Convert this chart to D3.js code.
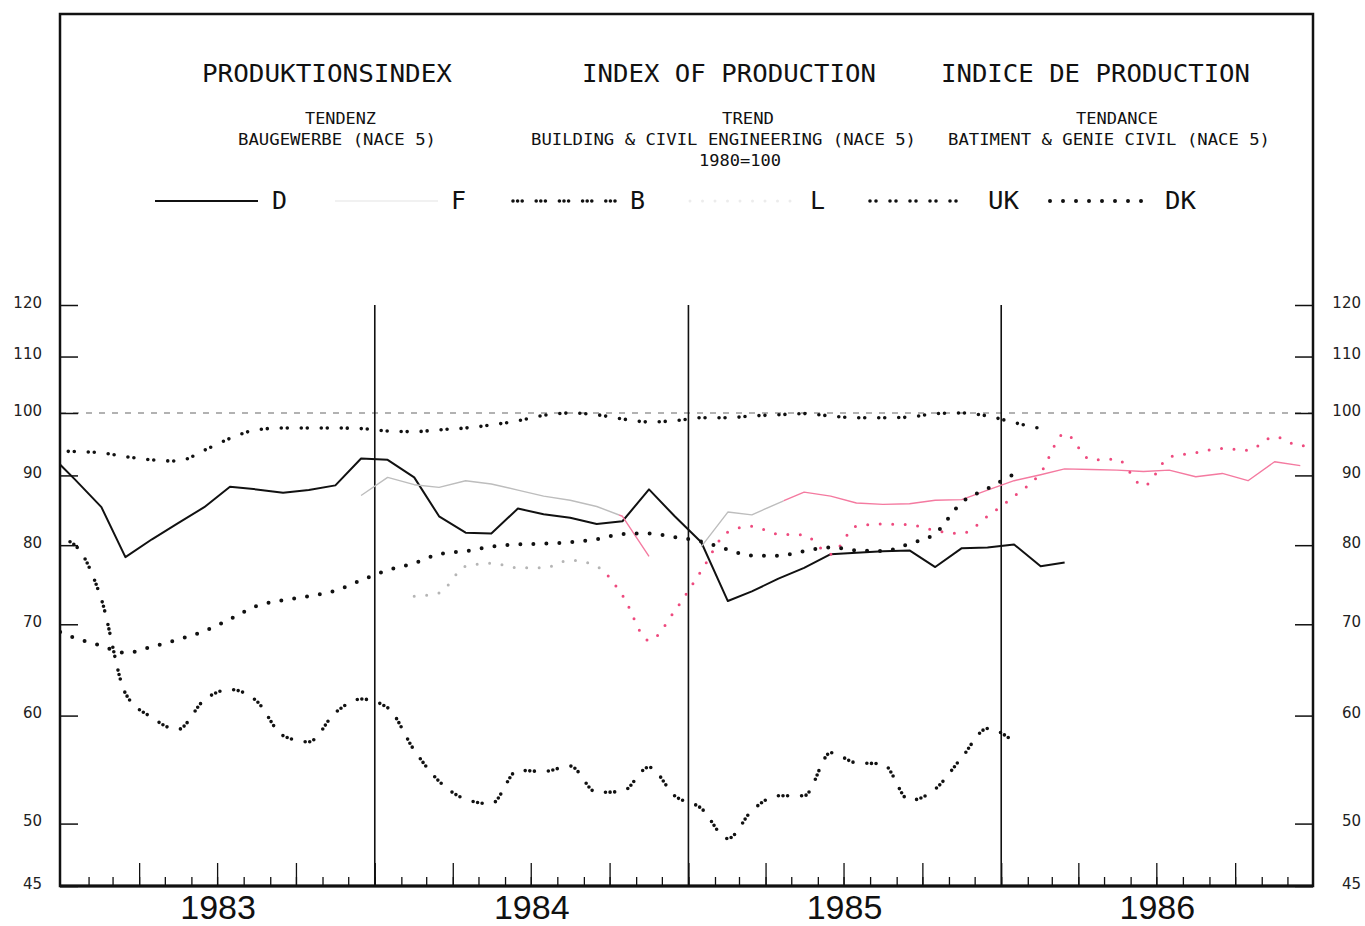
<!DOCTYPE html>
<html><head><meta charset="utf-8">
<script src="https://cdn.jsdelivr.net/npm/d3@7"></script>
<style>body{margin:0;background:#fff}</style>
</head><body>
<svg id="c" width="1365" height="926"></svg>
<script>
// ---------- DATA ----------
const years = [1983, 1984, 1985, 1986];
const yTicks = [120, 110, 100, 90, 80, 70, 60, 50, 45];
const titles = ["PRODUKTIONSINDEX", "INDEX OF PRODUCTION", "INDICE DE PRODUCTION"];
const subtitles1 = ["TENDENZ", "TREND", "TENDANCE"];
const subtitles2 = ["BAUGEWERBE (NACE 5)", "BUILDING & CIVIL ENGINEERING (NACE 5)", "BATIMENT & GENIE CIVIL (NACE 5)"];
const baseNote = "1980=100";
const legendKeys = ["D", "F", "B", "L", "UK", "DK"];

// monthly values; first value is for the given start month [year, monthIndex]
const D_start = [1982, 11];
const D_values = [93.5,
  89.4, 85.3, 78.4, 80.8, 83.0, 85.3, 88.3, 87.9, 87.4, 87.8, 88.5, 92.6,
  92.4, 89.7, 84.0, 81.7, 81.6, 85.1, 84.3, 83.8, 82.9, 83.3, 87.9, 84.0,
  80.4, 72.8, 74.0, 75.6, 77.0, 78.8, 79.0, 79.2, 79.3, 77.1, 79.6, 79.7,
  80.1, 77.2, 77.7];

const F_start = [1983, 11];
const F_values = [87.0,
  89.7, 88.6, 88.2, 89.2, 88.7, 87.8, 86.9, 86.3, 85.4, 84.0, 78.5, null,
  79.8, 84.6, 84.2, 85.9, 87.5, 86.9, 85.9, 85.7, 85.8, 86.3, 86.4, 87.8,
  89.2, 90.1, 91.0, 90.9, 90.8, 90.6, 90.8, 89.8, 90.3, 89.2, 92.1, 91.5];

const B_start = [1982, 11];
const B_values = [81.5,
  80.0, 73.0, 62.3, 59.8, 58.6, 61.6, 62.7, 61.5, 58.0, 57.4, 60.3, 61.7,
  60.8, 56.6, 53.7, 52.1, 51.7, 54.7, 54.6, 55.1, 52.7, 52.8, 55.0, 52.4,
  51.3, 48.75, 51.1, 52.4, 52.4, 56.35, 55.4, 55.3, 52.0, 53.0, 55.9, 58.7,
  57.4];

const L_start = [1984, 1];
const L_values = [
  73.4, 73.8, 77.2, 77.6, 77.0, 77.0, 78.0, 77.2, 73.5, 68.1, 71.6,
  76.6, 81.8, 82.6, 81.5, 81.4, 78.8, 82.6, 82.9, 82.8, 82.0, 81.6, 84.0,
  86.9, 90.4, 96.6, 92.4, 92.5, 88.4, 92.8, 93.5, 94.2, 93.9, 96.1, 94.6,
  95.4];

const UK_start = [1982, 11];
const UK_values = [93.8,
  93.7, 93.5, 92.9, 92.4, 92.2, 93.9, 95.8, 97.2, 97.5, 97.5, 97.5, 97.4,
  97.0, 96.9, 97.2, 97.5, 98.0, 98.7, 99.6, 100.0, 99.7, 99.0, 98.5, 98.7,
  99.2, 99.2, 99.5, 99.7, 99.9, 99.5, 99.2, 99.2, 99.3, 99.9, 100.0, 99.5,
  98.4, 97.4];

const DK_start = [1982, 11];
const DK_values = [69.7,
  68.4, 67.5, 66.7, 67.4, 68.2, 69.2, 70.6, 72.2, 72.9, 73.4, 74.1, 75.4,
  76.7, 77.6, 78.8, 79.2, 79.8, 80.1, 80.2, 80.4, 80.8, 81.5, 81.6, 81.1,
  80.5, 79.4, 78.6, 78.6, 79.2, 79.7, 79.3, 79.2, 80.2, 81.6, 86.0, 88.0,
  90.2];

// ---------- LAYOUT ----------
const L0 = 60, R0 = 1313, T0 = 14, B0 = 886;
const svg = d3.select("#c");
svg.append("rect").attr("width", 1365).attr("height", 926).attr("fill", "#fff");

const x = d3.scaleTime()
  .domain([new Date(years[0], 0, 1), new Date(years[years.length - 1] + 1, 0, 1)])
  .range([62, 1314]);
const y = d3.scaleLog().domain([45, 120]).range([B0, 305]);

const pts = (start, vals) => vals.map((v, i) => ({ date: new Date(start[0], start[1] + i, 16), v }));

const mono = "'DejaVu Sans Mono', 'Liberation Mono', monospace";

// clip paths (colour zones of the faded F and L traces)
const defs = svg.append("defs");
function clipX(id, ranges) {
  defs.append("clipPath").attr("id", id).selectAll("rect").data(ranges).join("rect")
    .attr("x", d => Math.max(L0, x(d[0]))).attr("width", d => Math.min(R0, x(d[1])) - Math.max(L0, x(d[0])))
    .attr("y", T0).attr("height", B0 - T0);
}
const START = new Date(1982, 11, 1), END = new Date(1987, 0, 1);
clipX("plot", [[START, END]]);
clipX("fpink", [[new Date(1984, 9, 12), new Date(1984, 11, 1)], [new Date(1985, 3, 22), END]]);
clipX("fgray", [[START, new Date(1984, 9, 12)], [new Date(1984, 11, 1), new Date(1985, 3, 22)]]);
clipX("lpink", [[new Date(1984, 8, 22), END]]);
clipX("lgray", [[START, new Date(1984, 8, 22)]]);

// ---------- TEXT ----------
function txt(s, xx, yy, size, len, family) {
  const t = svg.append("text").attr("x", xx).attr("y", yy)
    .attr("font-family", family || mono).attr("font-size", size).attr("fill", "#111").text(s);
  if (len) t.attr("textLength", len).attr("lengthAdjust", "spacingAndGlyphs");
  return t;
}
const titleX = [202, 582, 941], titleLen = [250, 294, 309];
titles.forEach((s, i) => txt(s, titleX[i], 82, 25, titleLen[i]));
const s1X = [305, 722, 1076], s1Len = [71, 52, 82];
subtitles1.forEach((s, i) => txt(s, s1X[i], 124, 15, s1Len[i]));
const s2X = [238, 531, 948], s2Len = [198, 385, 322];
subtitles2.forEach((s, i) => txt(s, s2X[i], 145, 15, s2Len[i]));
txt(baseNote, 699, 166, 15, 82);

// ---------- FRAME & AXES ----------
svg.append("line").attr("x1", L0).attr("x2", R0).attr("y1", y(100)).attr("y2", y(100))
  .attr("stroke", "#666").attr("stroke-width", 1.2).attr("stroke-dasharray", "6 7");

svg.selectAll("line.yr").data(years.slice(1).map(yy => new Date(yy, 0, 1))).join("line")
  .attr("class", "yr").attr("x1", d => x(d)).attr("x2", d => x(d))
  .attr("y1", y(120)).attr("y2", B0).attr("stroke", "#111").attr("stroke-width", 1.6);

const innerMonths = d3.timeMonth.range(new Date(years[0], 1, 1), new Date(years[years.length - 1], 11, 2));
const monthAxis = d3.axisBottom(x).tickValues(innerMonths).tickSize(-9).tickFormat("");
const qAxis = d3.axisBottom(x).tickValues(innerMonths.filter(d => d.getMonth() % 3 === 0)).tickSize(-23).tickFormat("");
[monthAxis, qAxis].forEach(a => {
  const g = svg.append("g").attr("transform", `translate(0,${B0})`).call(a);
  g.select(".domain").remove();
  g.selectAll("line").attr("stroke", "#111").attr("stroke-width", 1.3);
});

svg.selectAll("text.yl").data(years).join("text").attr("class", "yl")
  .attr("x", d => x(new Date(d, 6, 1)) + 1).attr("y", 919)
  .attr("text-anchor", "middle").attr("font-family", "'Liberation Sans', Arial, sans-serif")
  .attr("font-size", 34).attr("fill", "#111").text(d => d);

const gl = svg.append("g").attr("transform", `translate(${L0},0)`)
  .call(d3.axisLeft(y).tickValues(yTicks).tickSize(-18).tickPadding(18).tickFormat(d3.format("d")));
const gr = svg.append("g").attr("transform", `translate(${R0},0)`)
  .call(d3.axisRight(y).tickValues(yTicks).tickSize(-18).tickPadding(18).tickFormat(d3.format("d")));
[gl, gr].forEach(g => {
  g.select(".domain").remove();
  g.selectAll("line").attr("stroke", "#111").attr("stroke-width", 1.5);
  g.selectAll("text").attr("font-family", "'DejaVu Sans', sans-serif").attr("font-size", 15)
    .attr("fill", "#222").attr("dy", "0.15em");
});
gr.selectAll("text").attr("text-anchor", "end").attr("x", 48);

svg.append("rect").attr("x", L0).attr("y", T0).attr("width", R0 - L0).attr("height", B0 - T0)
  .attr("fill", "none").attr("stroke", "#111").attr("stroke-width", 2.5);
svg.append("line").attr("x1", L0).attr("x2", R0).attr("y1", B0).attr("y2", B0)
  .attr("stroke", "#111").attr("stroke-width", 3.2);

// ---------- SERIES ----------
const styles = {
  D:  { stroke: "#111", width: 2, dash: null, cap: "butt", curve: d3.curveLinear },
  F:  { stroke: "#bdbdbd", pink: "#f47aa0", width: 1.4, dash: null, cap: "butt", curve: d3.curveLinear },
  B:  { stroke: "#111", width: 3.6, dash: "0 4.6 0 4.6 0 14", cap: "round", curve: d3.curveMonotoneX },
  L:  { stroke: "#b5b5b5", pink: "#ee4a7e", width: 3, dash: "0 12.5", cap: "round", curve: d3.curveMonotoneX },
  UK: { stroke: "#111", width: 3.6, dash: "0 6 0 14", cap: "round", curve: d3.curveMonotoneX },
  DK: { stroke: "#111", width: 4, dash: "0 13", cap: "round", curve: d3.curveMonotoneX }
};
const series = [
  { key: "D", data: pts(D_start, D_values) },
  { key: "F", data: pts(F_start, F_values) },
  { key: "B", data: pts(B_start, B_values) },
  { key: "L", data: pts(L_start, L_values) },
  { key: "UK", data: pts(UK_start, UK_values) },
  { key: "DK", data: pts(DK_start, DK_values) }
];
series.forEach(s => {
  const st = styles[s.key];
  const line = d3.line().defined(d => d.v != null).x(d => x(d.date)).y(d => y(d.v)).curve(st.curve);
  const draw = (clip, color) => svg.append("g").attr("clip-path", `url(#${clip})`)
    .append("path").datum(s.data).attr("d", line)
    .attr("fill", "none").attr("stroke", color).attr("stroke-width", st.width)
    .attr("stroke-linecap", st.cap).attr("stroke-linejoin", "round")
    .attr("stroke-dasharray", st.dash);
  if (st.pink) {
    const k = s.key.toLowerCase();
    draw(k + "gray", st.stroke);
    draw(k + "pink", st.pink);
  } else {
    draw("plot", st.stroke);
  }
});

// ---------- LEGEND ----------
const legendSym = { D: [155, 258], F: [335, 438], B: [513, 619], L: [690, 795], UK: [870, 967], DK: [1050, 1153] };
const legendLab = { D: 272, F: 451, B: 630, L: 810, UK: 988, DK: 1165 };
const legendFaint = { F: "#ececec", L: "#ececec" };
legendKeys.forEach(k => {
  const st = styles[k];
  const [a, b] = legendSym[k];
  svg.append("line").attr("x1", a).attr("x2", b).attr("y1", 201).attr("y2", 201)
    .attr("stroke", legendFaint[k] || st.stroke).attr("stroke-width", k === "D" ? 1.8 : st.width)
    .attr("stroke-linecap", st.cap).attr("stroke-dasharray", st.dash);
  txt(k, legendLab[k], 209, 25, k.length > 1 ? 31 : null);
});
</script>
</body></html>
